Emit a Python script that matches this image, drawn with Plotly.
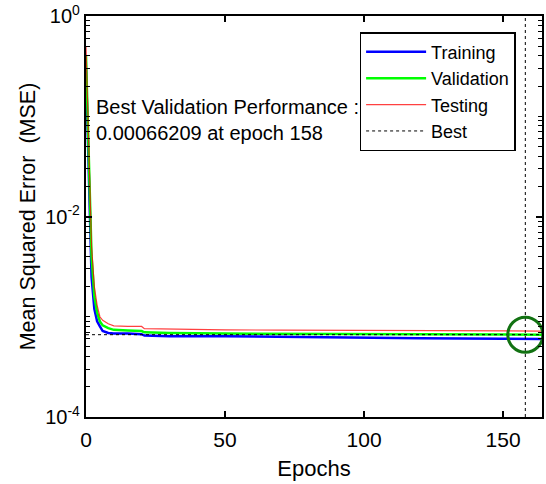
import plotly.graph_objects as go

# ---- data ----
epochs = [0, 1, 2, 3, 4, 5, 6, 8, 10, 15, 20, 21, 30, 50, 70, 100, 120, 150, 158, 164]
train_mse = [0.30, 0.020, 0.0025, 0.0012, 0.00090, 0.00080, 0.00072, 0.00069, 0.00068, 0.00068,
             0.00067, 0.00065, 0.00064, 0.00064, 0.00063, 0.00062, 0.00061, 0.000605, 0.000602, 0.00060]
val_mse = [0.40, 0.030, 0.0040, 0.0016, 0.0011, 0.00090, 0.00082, 0.00077, 0.00074, 0.00073,
           0.00072, 0.00070, 0.00069, 0.00068, 0.000675, 0.00067, 0.000665, 0.000663, 0.00066209, 0.000663]
test_mse = [0.50, 0.035, 0.0050, 0.0020, 0.0013, 0.0010, 0.00092, 0.00085, 0.00081, 0.00080,
            0.00080, 0.00076, 0.00075, 0.00074, 0.000735, 0.00073, 0.000725, 0.00072, 0.00072, 0.00072]
best_epoch = 158
best_perf = 0.00066209
x_max = 164
y_min, y_max = 1e-4, 1.0
x_ticks = [0, 50, 100, 150]
y_ticks = [1e-4, 1e-2, 1.0]
y_ticktext = ["10<sup>-4</sup>", "10<sup>-2</sup>", "10<sup>0</sup>"]
y_minor = [k * 10.0 ** e for e in range(-4, 0) for k in range(1, 10) if not (k == 1 and e in (-4, -2))]

FONT = "Liberation Sans, Arial, sans-serif"

fig = go.Figure()
fig.add_trace(go.Scatter(x=epochs, y=train_mse, mode="lines", name="Training",
                         line=dict(color="#0000ff", width=2.5)))
fig.add_trace(go.Scatter(x=epochs, y=val_mse, mode="lines", name="Validation",
                         line=dict(color="#00ff00", width=2.5)))
fig.add_trace(go.Scatter(x=epochs, y=test_mse, mode="lines", name="Testing",
                         line=dict(color="rgba(255,0,0,0.75)", width=1.2)))
fig.add_trace(go.Scatter(x=[0, x_max, None, best_epoch, best_epoch],
                         y=[best_perf, best_perf, None, y_min, y_max],
                         mode="lines", name="Best",
                         line=dict(color="black", width=1, dash="dot")))
fig.add_trace(go.Scatter(x=[best_epoch], y=[best_perf], mode="markers", showlegend=False,
                         marker=dict(symbol="circle-open", size=35,
                                     line=dict(color="#127212", width=3), color="#127212")))

fig.add_annotation(xref="paper", yref="paper", x=0.018, y=0.74, xanchor="left", yanchor="middle",
                   align="left", showarrow=False,
                   text="Best Validation Performance :<br>0.00066209 at epoch 158",
                   font=dict(family=FONT, size=20, color="black"))

fig.update_layout(
    width=546, height=484,
    margin=dict(l=86, r=2, t=15, b=67),
    paper_bgcolor="white", plot_bgcolor="white",
    font=dict(family=FONT, size=20, color="black"),
    showlegend=True,
    legend=dict(x=0.6, y=0.96, xanchor="left", yanchor="top",
                bgcolor="white", bordercolor="black", borderwidth=1.5,
                font=dict(family=FONT, size=18, color="black"),
                tracegroupgap=0, itemwidth=60),
)
fig.update_xaxes(range=[0, x_max], tickvals=x_ticks, ticks="inside", ticklen=6, tickwidth=1.8,
                 tickcolor="black", showline=True, linecolor="black", linewidth=2.2, mirror="allticks",
                 showgrid=False, zeroline=False, tickfont=dict(size=21), ticklabelstandoff=3,
                 title=dict(text="Epochs", font=dict(size=22), standoff=10))
fig.update_yaxes(type="log", range=[-4, 0], tickvals=y_ticks, ticktext=y_ticktext,
                 ticks="inside", ticklen=6, tickwidth=1.8, tickcolor="black",
                 minor=dict(tickvals=y_minor, ticks="inside", ticklen=3.5, tickcolor="black", tickwidth=1.3,
                            showgrid=False),
                 showline=True, linecolor="black", linewidth=2.2, mirror="allticks",
                 showgrid=False, zeroline=False, tickfont=dict(size=20),
                 title=dict(text="Mean Squared Error  (MSE)", font=dict(size=21.5), standoff=4))

fig.write_html("out.html")
